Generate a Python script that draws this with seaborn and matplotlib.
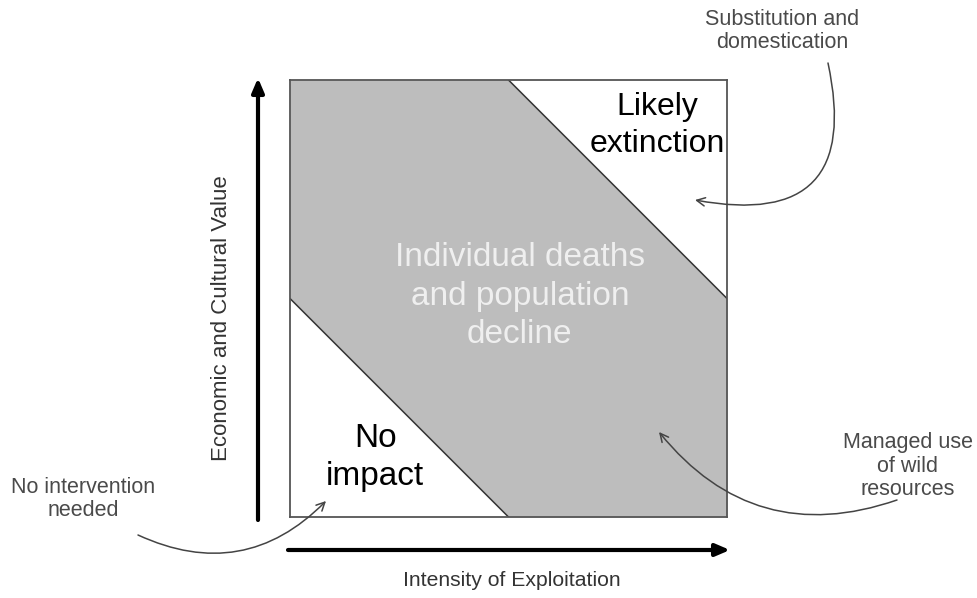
import numpy as np
import pandas as pd
import matplotlib
matplotlib.use("Agg")
import matplotlib.pyplot as plt
import seaborn as sns

# Limites das zonas (x + y = limite)
thresholds = [0.5, 1.5]
region_labels = ["No\nimpact", "Individual deaths\nand population\ndecline", "Likely\nextinction"]
x_label = "Intensity of Exploitation"
y_label = "Economic and Cultural Value"
note_top = "Substitution and\ndomestication"
note_left = "No intervention\nneeded"
note_right = "Managed use\nof wild\nresources"

W, H = 978, 598

sns.set_theme(style="white")
plt.rcParams['font.family'] = ['Liberation Sans', 'DejaVu Sans']

fig = plt.figure(figsize=(W / 100, H / 100), dpi=100)
fig.patch.set_facecolor("white")


def fp(x, y):
    """pixel (topo-esquerda) -> figure pixels"""
    return (x, H - y)


# Eixo principal (quadrado)
ax = fig.add_axes([290 / W, (H - 517) / H, 437 / W, 437 / H])
ax.set_xlim(0, 1)
ax.set_ylim(0, 1)
ax.set_xticks([])
ax.set_yticks([])
for s in ax.spines.values():
    s.set_color("#555555")
    s.set_linewidth(1.3)

# Faixa cinza entre as duas diagonais
xs = np.linspace(0, 1, 201)
lower = np.clip(thresholds[0] - xs, 0, 1)
upper = np.clip(thresholds[1] - xs, 0, 1)
ax.fill_between(xs, lower, upper, color="#bdbdbd", lw=0, zorder=1)

lines = []
for t in thresholds:
    seg = xs[(t - xs >= 0) & (t - xs <= 1)]
    lines.append(pd.DataFrame({"x": seg, "y": t - seg, "limite": str(t)}))
df_lines = pd.concat(lines)
sns.lineplot(data=df_lines, x="x", y="y", units="limite", estimator=None,
             color="#333333", lw=1.1, ax=ax, zorder=2, sort=False)
ax.set_xlabel("")
ax.set_ylabel("")

# Rótulos das regiões
ax.text(0.195, 0.136, region_labels[0], ha="center", va="center",
        fontsize=24, color="black", linespacing=1.3)
ax.text(0.526, 0.505, region_labels[1], ha="center", va="center",
        fontsize=24, color="#efefef", linespacing=1.32)
ax.text(0.84, 0.895, region_labels[2], ha="center", va="center",
        fontsize=23, color="black", linespacing=1.3)

# Setas dos eixos
arrow_kw = dict(arrowstyle="-|>,head_length=0.7,head_width=0.3", color="black",
                lw=3, shrinkA=0, shrinkB=0)
ax.annotate("", xy=fp(258, 78), xytext=fp(258, 520), xycoords="figure pixels",
            textcoords="figure pixels", arrowprops=arrow_kw, annotation_clip=False)
ax.annotate("", xy=fp(730, 550), xytext=fp(288, 550), xycoords="figure pixels",
            textcoords="figure pixels", arrowprops=arrow_kw, annotation_clip=False)

fig.text(222 / W, (H - 318) / H, y_label, rotation=90, ha="center", va="center",
         fontsize=16, color="#333333")
fig.text(512 / W, (H - 580) / H, x_label, ha="center", va="center",
         fontsize=15.2, color="#333333")

# Notas com setas curvas
note_kw = dict(fontsize=15.5, color="#4a4a4a", ha="center", va="center", linespacing=1.15)
fig.text(782 / W, (H - 31) / H, note_top, **note_kw)
fig.text(83 / W, (H - 499) / H, note_left, **note_kw)
fig.text(908 / W, (H - 466) / H, note_right, **note_kw)

curve_kw = dict(arrowstyle="->,head_length=0.5,head_width=0.25", color="#444444",
                lw=1.1, shrinkA=0, shrinkB=0)
ax.annotate("", xy=fp(695, 200), xytext=fp(828, 63), xycoords="figure pixels",
            textcoords="figure pixels", annotation_clip=False,
            arrowprops=dict(connectionstyle="arc3,rad=-0.75", **curve_kw))
ax.annotate("", xy=fp(326, 501), xytext=fp(138, 535), xycoords="figure pixels",
            textcoords="figure pixels", annotation_clip=False,
            arrowprops=dict(connectionstyle="arc3,rad=0.35", **curve_kw))
ax.annotate("", xy=fp(659, 432), xytext=fp(897, 500), xycoords="figure pixels",
            textcoords="figure pixels", annotation_clip=False,
            arrowprops=dict(connectionstyle="arc3,rad=-0.35", **curve_kw))

fig.savefig("out.png", dpi=100, facecolor="white")
